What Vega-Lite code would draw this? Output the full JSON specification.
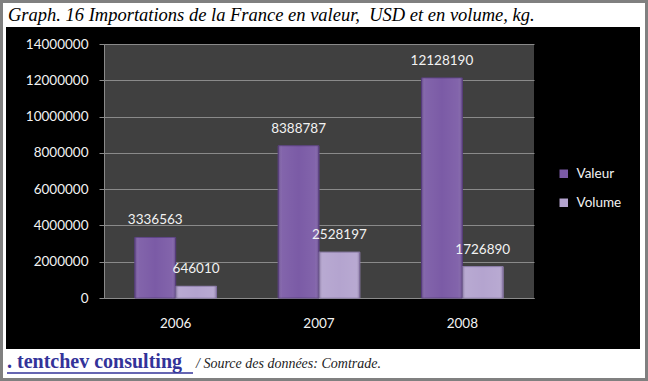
{
  "$schema": "https://vega.github.io/schema/vega-lite/v6.json",
  "background": "black",
  "padding": 0,
  "spacing": 0,
  "config": {"view": {"stroke": null}, "concat": {"spacing": 0}},
  "datasets": {
    "bars": [
      {"year": "2006", "series": "Valeur", "value": 3336563},
      {"year": "2006", "series": "Volume", "value": 646010},
      {"year": "2007", "series": "Valeur", "value": 8388787},
      {"year": "2007", "series": "Volume", "value": 2528197},
      {"year": "2008", "series": "Valeur", "value": 12128190},
      {"year": "2008", "series": "Volume", "value": 1726890}
    ],
    "title": [{"label": "Graph. 16 Importations de la France en valeur,\u00a0 USD et en volume, kg."}],
    "link": [{"label": ". tentchev consulting"}],
    "source": [{"label": "/ Source des données: Comtrade."}],
    "blank": [{}]
  },
  "hconcat": [
    {"width": 3, "height": 381, "data": {"name": "blank"}, "mark": {"type": "rect", "opacity": 0}, "view": {"fill": "#808080", "stroke": null}},
    {
      "spacing": 0,
      "vconcat": [
        {"width": 3, "height": 3, "data": {"name": "blank"}, "mark": {"type": "rect", "opacity": 0}, "view": {"fill": "#808080", "stroke": null}},
        {"width": 3, "height": 375, "data": {"name": "blank"}, "mark": {"type": "rect", "opacity": 0}, "view": {"fill": "white", "stroke": null}},
        {"width": 3, "height": 3, "data": {"name": "blank"}, "mark": {"type": "rect", "opacity": 0}, "view": {"fill": "#808080", "stroke": null}}
      ]
    },
    {
      "spacing": 0,
      "vconcat": [
        {"width": 634, "height": 3, "data": {"name": "blank"}, "mark": {"type": "rect", "opacity": 0}, "view": {"fill": "#808080", "stroke": null}},
        {
          "width": 634, "height": 24,
          "view": {"fill": "white", "stroke": null},
          "data": {"name": "title"},
          "mark": {"type": "text", "font": "Liberation Serif", "fontStyle": "italic", "fontSize": 18.5, "align": "left", "baseline": "alphabetic", "color": "black"},
          "encoding": {"text": {"field": "label"}, "x": {"value": 2}, "y": {"value": 18}}
        },
        {
          "spacing": 0,
          "hconcat": [
            {"width": 1, "height": 10, "data": {"name": "blank"}, "mark": {"type": "rect", "opacity": 0}},
            {
              "width": 430, "height": 254,
              "data": {"name": "bars"},
              "view": {"fill": "#404040", "stroke": null},
              "layer": [
                {
                  "mark": {"type": "bar", "strokeWidth": 1},
                  "encoding": {
                    "x": {"field": "year", "type": "nominal", "scale": {"paddingInner": 0.43, "paddingOuter": 0.215},
                      "axis": {"orient": "bottom", "title": null, "labelAngle": 0, "ticks": false, "grid": false, "domainColor": "#8a8a8a", "labelColor": "#f2f2f2", "labelFont": "Lato", "labelFontSize": 13.5, "labelPadding": 18, "minExtent": 51, "maxExtent": 51}},
                    "xOffset": {"field": "series", "type": "nominal", "sort": ["Valeur", "Volume"], "scale": {"paddingInner": 0, "paddingOuter": 0}},
                    "y": {"field": "value", "type": "quantitative", "scale": {"domain": [0, 14000000], "nice": false},
                      "axis": {"orient": "left", "title": null, "values": [0, 2000000, 4000000, 6000000, 8000000, 10000000, 12000000, 14000000], "format": "d", "grid": true, "gridColor": "#8a8a8a", "gridWidth": 1, "domainColor": "#8a8a8a", "tickColor": "#8a8a8a", "tickSize": 5, "labelPadding": 11, "labelColor": "#f2f2f2", "labelFont": "Lato", "labelFontSize": 13.5, "minExtent": 97, "maxExtent": 97}},
                    "color": {"field": "series", "type": "nominal", "scale": {"domain": ["Valeur", "Volume"], "range": ["#7b5ba6", "#b4a4cf"]},
                      "legend": {"title": null, "orient": "none", "legendX": 557, "legendY": 167, "symbolType": "square", "symbolSize": 72, "symbolStrokeWidth": 0, "labelColor": "#f2f2f2", "labelFont": "Lato", "labelFontSize": 13.5, "rowPadding": 14, "labelOffset": 6, "padding": 0}},
                    "stroke": {"field": "series", "type": "nominal", "scale": {"domain": ["Valeur", "Volume"], "range": ["#5e4386", "#9483b3"]}, "legend": null}
                  }
                },
                {
                  "mark": {"type": "bar", "color": {"gradient": "linear", "x1": 0, "x2": 1, "y1": 0, "y2": 0, "stops": [
                    {"offset": 0, "color": "rgba(40,20,70,0.35)"},
                    {"offset": 0.1, "color": "rgba(255,255,255,0.06)"},
                    {"offset": 0.5, "color": "rgba(255,255,255,0.0)"},
                    {"offset": 0.9, "color": "rgba(255,255,255,0.06)"},
                    {"offset": 1, "color": "rgba(40,20,70,0.35)"}
                  ]}},
                  "encoding": {
                    "x": {"field": "year", "type": "nominal", "axis": null},
                    "xOffset": {"field": "series", "type": "nominal", "sort": ["Valeur", "Volume"]},
                    "y": {"field": "value", "type": "quantitative", "axis": null}
                  }
                },
                {
                  "mark": {"type": "text", "baseline": "middle", "dy": -17, "color": "#f2f2f2", "font": "Lato", "fontSize": 13.5},
                  "encoding": {
                    "x": {"field": "year", "type": "nominal", "axis": {"orient": "top", "title": null, "labels": false, "ticks": false, "domain": false, "grid": false, "minExtent": 17, "maxExtent": 17}},
                    "xOffset": {"field": "series", "type": "nominal", "sort": ["Valeur", "Volume"]},
                    "y": {"field": "value", "type": "quantitative", "axis": {"orient": "right", "title": null, "labels": false, "ticks": false, "domain": false, "grid": false, "minExtent": 106, "maxExtent": 106}},
                    "text": {"field": "value", "type": "quantitative", "format": "d"}
                  }
                }
              ],
              "resolve": {"axis": {"x": "independent", "y": "independent"}}
            }
          ]
        },
        {
          "width": 634, "height": 29,
          "view": {"fill": "white", "stroke": null},
          "layer": [
            {
              "data": {"name": "link"},
              "mark": {"type": "text", "font": "Liberation Serif", "fontWeight": "bold", "fontSize": 20, "align": "left", "baseline": "alphabetic", "color": "#333399"},
              "encoding": {"text": {"field": "label"}, "x": {"value": 1}, "y": {"value": 19}}
            },
            {
              "data": {"name": "link"},
              "mark": {"type": "rule", "color": "#333399", "strokeWidth": 1.5},
              "encoding": {"x": {"value": 1}, "x2": {"value": 187}, "y": {"value": 24}}
            },
            {
              "data": {"name": "source"},
              "mark": {"type": "text", "font": "Liberation Serif", "fontStyle": "italic", "fontSize": 14, "align": "left", "baseline": "alphabetic", "color": "#222222"},
              "encoding": {"text": {"field": "label"}, "x": {"value": 190}, "y": {"value": 19}}
            }
          ]
        },
        {"width": 634, "height": 3, "data": {"name": "blank"}, "mark": {"type": "rect", "opacity": 0}, "view": {"fill": "#808080", "stroke": null}}
      ]
    },
    {
      "spacing": 0,
      "vconcat": [
        {"width": 5, "height": 3, "data": {"name": "blank"}, "mark": {"type": "rect", "opacity": 0}, "view": {"fill": "#808080", "stroke": null}},
        {"width": 5, "height": 375, "data": {"name": "blank"}, "mark": {"type": "rect", "opacity": 0}, "view": {"fill": "white", "stroke": null}},
        {"width": 5, "height": 3, "data": {"name": "blank"}, "mark": {"type": "rect", "opacity": 0}, "view": {"fill": "#808080", "stroke": null}}
      ]
    },
    {"width": 3, "height": 381, "data": {"name": "blank"}, "mark": {"type": "rect", "opacity": 0}, "view": {"fill": "#808080", "stroke": null}}
  ]
}
